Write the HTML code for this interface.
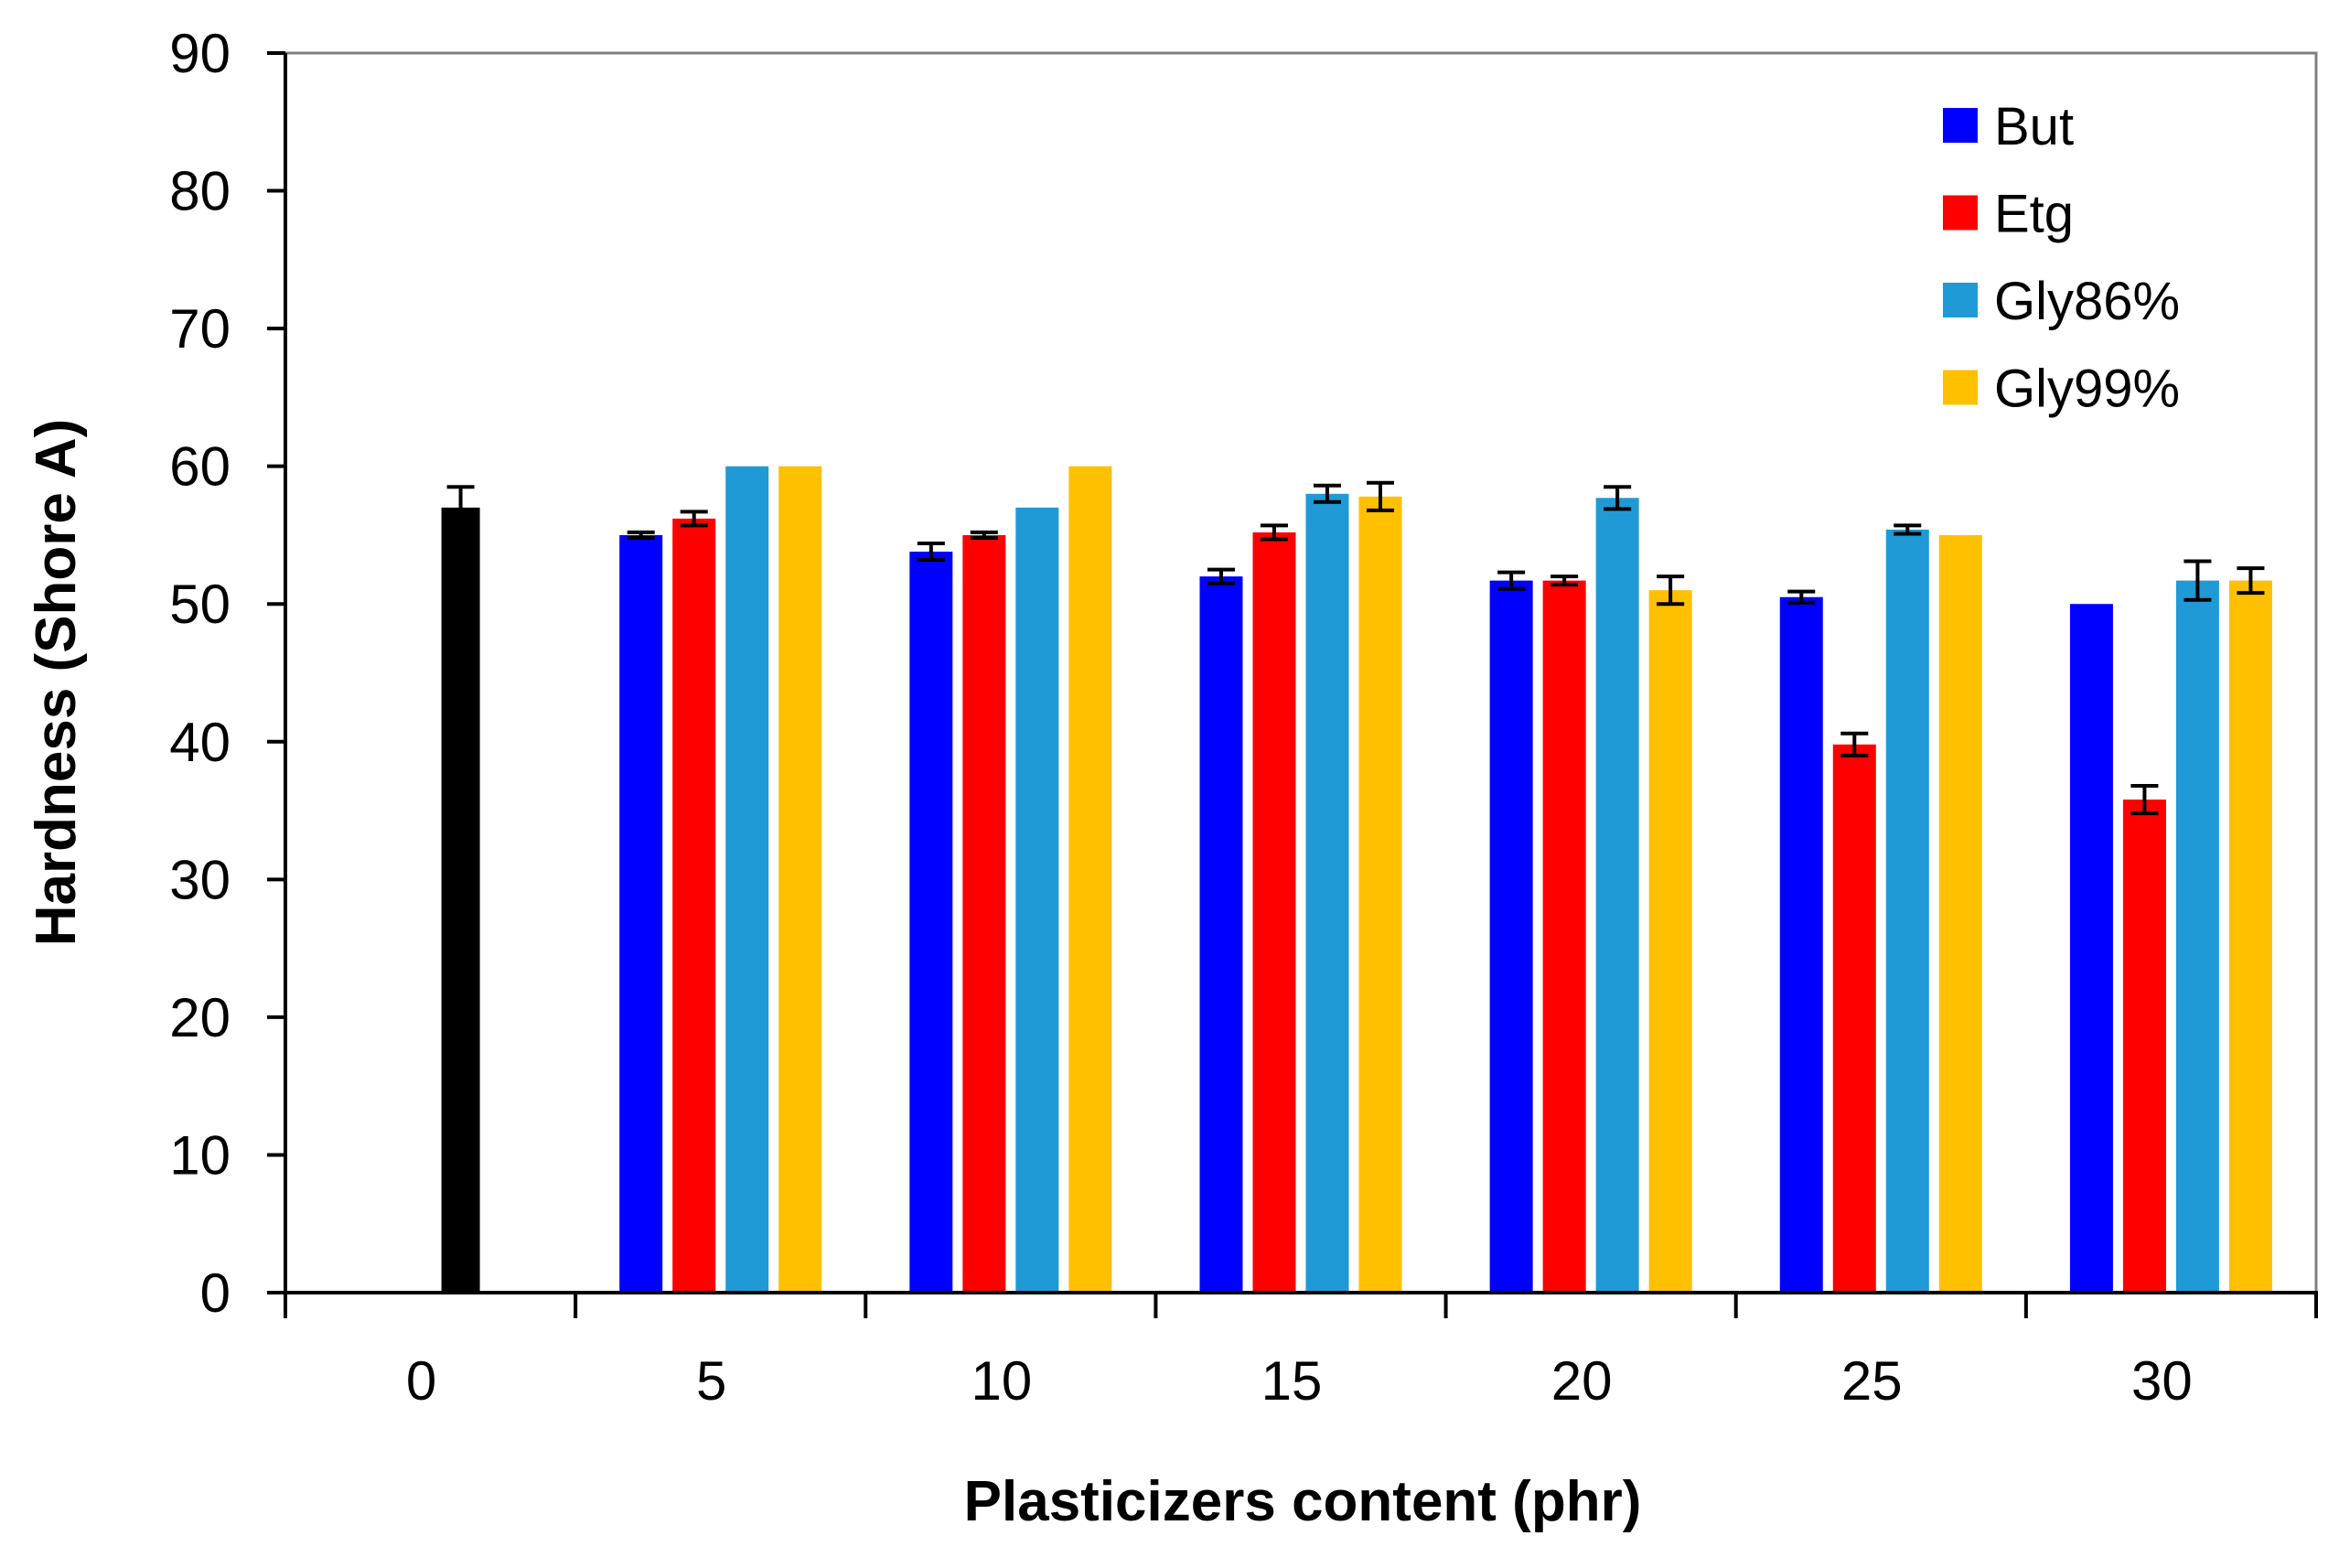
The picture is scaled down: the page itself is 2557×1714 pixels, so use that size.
<!DOCTYPE html>
<html><head><meta charset="utf-8"><style>
html,body{margin:0;padding:0;background:#fff;}
svg{display:block;font-family:"Liberation Sans",sans-serif;}
</style></head><body>
<svg id="chart" width="2557" height="1714" viewBox="0 0 2557 1714"></svg>
<script>
const categories=["0","5","10","15","20","25","30"];
const seriesNames=["But","Etg","Gly86%","Gly99%"];
const seriesColors=["#0000ff","#ff0000","#1f9ad6","#ffc000"];
const butVals=[null,55,53.8,52,51.7,50.5,50];
const etgVals=[null,56.2,55,55.2,51.7,39.8,35.8];
const gly86Vals=[null,60,57,58,57.7,55.4,51.7];
const gly99Vals=[null,60,60,57.8,51,55,51.7];
const butErr=[0,0.2,0.6,0.5,0.6,0.4,0.1];
const etgErr=[0,0.5,0.2,0.5,0.3,0.8,1.0];
const gly86Err=[0,0.1,0.1,0.6,0.8,0.3,1.4];
const gly99Err=[0,0.1,0.1,1.0,1.0,0.1,0.9];
const controlVal=57;
const controlErr=1.5;
const yTicks=[0,10,20,30,40,50,60,70,80,90];

const NS="http://www.w3.org/2000/svg";
const svg=document.getElementById('chart');
const L=312,R=2532,T=58,B=1413,yMax=90;
const gw=(R-L)/categories.length;
function y(v){return B-(v/yMax)*(B-T);}
function xc(i){return L+gw*(i+0.5);}
function mk(tag,attrs,parent){const e=document.createElementNS(NS,tag);for(const k in attrs)e.setAttribute(k,attrs[k]);(parent||svg).appendChild(e);return e;}

const frame=mk('rect',{x:L,y:T,width:R-L,height:B-T,fill:'none',stroke:'#808080','stroke-width':3});



const series=[butVals,etgVals,gly86Vals,gly99Vals];
const errs=[butErr,etgErr,gly86Err,gly99Err];
const pitch=58,bw=47;
function errbar(cx,v,e,name){
  const g=mk('g',{stroke:'#000','stroke-width':4});
  
  
  mk('line',{x1:cx,x2:cx,y1:y(v+e),y2:y(v-e)},g);
  mk('line',{x1:cx-15,x2:cx+15,y1:y(v+e),y2:y(v+e)},g);
  mk('line',{x1:cx-15,x2:cx+15,y1:y(v-e),y2:y(v-e)},g);
}
{
  const cx=xc(0)+33,w=42;
  const r=mk('rect',{x:cx-w/2,y:y(controlVal),width:w,height:B-y(controlVal),fill:'#000'});
  
  
  errbar(cx,controlVal,controlErr,'error-bar-control');
}
for(let s=0;s<series.length;s++){
  for(let i=0;i<categories.length;i++){
    const v=series[s][i]; if(v===null) continue;
    const cx=xc(i)+(s-1.5)*pitch;
    const r=mk('rect',{x:cx-bw/2,y:y(v),width:bw,height:B-y(v),fill:seriesColors[s]});
    
    
    if(errs[s][i]>0.15) errbar(cx,v,errs[s][i],'error-bar-'+seriesNames[s].toLowerCase().replace('%','')+'-'+categories[i]);
  }
}
const ya=mk('line',{x1:L,x2:L,y1:T,y2:B,stroke:'#000','stroke-width':4});


const xa=mk('line',{x1:L-20,x2:R+2,y1:B,y2:B,stroke:'#000','stroke-width':4});


yTicks.forEach(t=>{
  mk('line',{x1:L-20,x2:L,y1:y(t),y2:y(t),stroke:'#000','stroke-width':4});
  const tx=mk('text',{x:252,y:y(t)+21,'text-anchor':'end','font-size':60,fill:'#000'});
  tx.textContent=t;
  
  
});
for(let i=0;i<=categories.length;i++){
  const x=L+gw*i;
  mk('line',{x1:x,x2:x,y1:B,y2:B+28,stroke:'#000','stroke-width':4});
}
categories.forEach((c,i)=>{
  const tx=mk('text',{x:xc(i)-10,y:1530,'text-anchor':'middle','font-size':60,fill:'#000'});
  tx.textContent=c;
  
  
});
const xt=mk('text',{x:1424,y:1662,'text-anchor':'middle','font-size':62,'font-weight':'bold',fill:'#000'});
xt.textContent='Plasticizers content (phr)';


const yt=mk('text',{x:0,y:0,'text-anchor':'middle','font-size':62,'font-weight':'bold',fill:'#000',transform:'translate(82,746) rotate(-90)'});
yt.textContent='Hardness (Shore A)';


const lg=mk('g',{});


seriesNames.forEach((n,i)=>{
  const cy=137+i*95.5;
  const g=mk('g',{},lg);
  
  
  mk('rect',{x:2124,y:cy-19,width:38,height:38,fill:seriesColors[i]},g);
  const t=mk('text',{x:2180,y:cy+21,'font-size':58,fill:'#000'},g);
  t.textContent=n;
});
</script>
</body></html>
